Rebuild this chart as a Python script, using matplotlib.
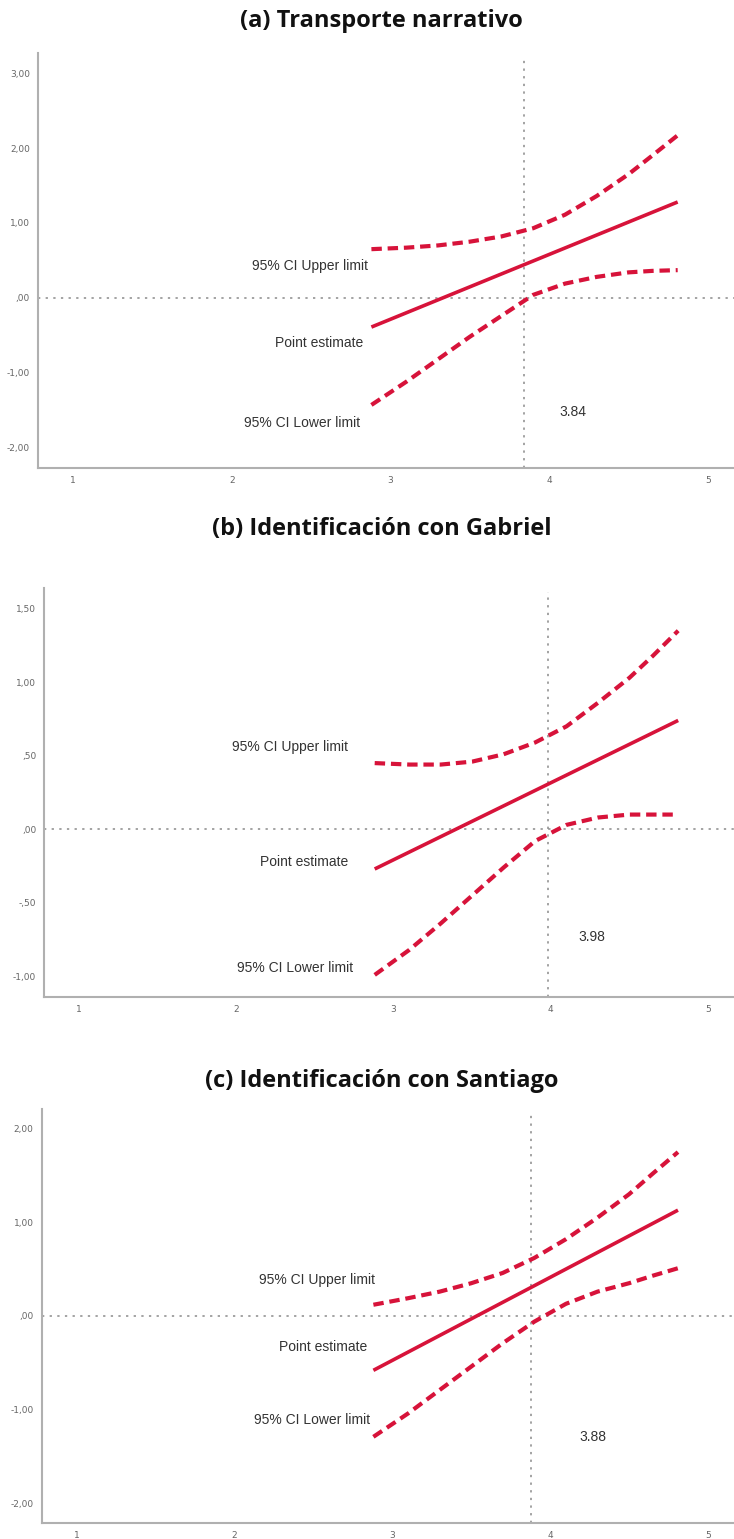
import matplotlib.pyplot as plt

RED = "#d7133a"
GRAY = "#8a8a8a"

# === Datos ===
titles = ["(a) Transporte narrativo", "(b) Identificación con Gabriel",
          "(c) Identificación con Santiago"]
jn_points = [3.84, 3.98, 3.88]
yticks = [[-2, -1, 0, 1, 2, 3],
          [-1, -0.5, 0, 0.5, 1, 1.5],
          [-2, -1, 0, 1, 2]]
ytick_labels = [["-2,00", "-1,00", ",00", "1,00", "2,00", "3,00"],
                ["-1,00", "-,50", ",00", ",50", "1,00", "1,50"],
                ["-2,00", "-1,00", ",00", "1,00", "2,00"]]
ylims = [(-2.27, 3.27), (-1.14, 1.64), (-2.21, 2.21)]

x_est = [2.88, 4.81]
est_a = [-0.39, 1.28]
est_b = [-0.27, 0.74]
est_c = [-0.58, 1.13]

x_ci = [2.88, 3.1, 3.3, 3.5, 3.7, 3.9, 4.1, 4.3, 4.5, 4.65, 4.81]
upper_a = [0.65, 0.67, 0.70, 0.75, 0.82, 0.93, 1.11, 1.36, 1.65, 1.90, 2.17]
lower_a = [-1.43, -1.12, -0.82, -0.52, -0.24, 0.04, 0.19, 0.28, 0.34, 0.36, 0.37]
upper_b = [0.45, 0.44, 0.44, 0.46, 0.51, 0.59, 0.70, 0.86, 1.03, 1.18, 1.35]
lower_b = [-0.99, -0.82, -0.64, -0.45, -0.26, -0.08, 0.03, 0.08, 0.10, 0.10, 0.10]
upper_c = [0.12, 0.19, 0.26, 0.35, 0.46, 0.62, 0.82, 1.05, 1.30, 1.52, 1.75]
lower_c = [-1.29, -1.04, -0.79, -0.54, -0.29, -0.06, 0.13, 0.26, 0.35, 0.43, 0.51]

estimates = [est_a, est_b, est_c]
uppers = [upper_a, upper_b, upper_c]
lowers = [lower_a, lower_b, lower_c]

# posiciones de las etiquetas (x derecha, y)
lab_upper = [(2.86, 0.42), (2.71, 0.56), (2.89, 0.38)]
lab_point = [(2.83, -0.60), (2.71, -0.22), (2.84, -0.33)]
lab_lower = [(2.81, -1.67), (2.74, -0.94), (2.86, -1.11)]
lab_jn = [(4.15, -1.52), (4.26, -0.73), (4.27, -1.29)]

axes_pos = [[0.052, 0.696, 0.948, 0.2696],
            [0.0606, 0.3522, 0.9394, 0.2657],
            [0.0572, 0.0104, 0.9428, 0.2690]]
title_y = [0.9865, 0.6565, 0.2975]

fig = plt.figure(figsize=(7.34, 15.39), dpi=100)

for i in range(3):
    ax = fig.add_axes(axes_pos[i])
    ax.plot(x_est, estimates[i], color=RED, lw=2.6, solid_capstyle="butt")
    ax.plot(x_ci, uppers[i], color=RED, lw=3, dashes=(2.5, 1.4))
    ax.plot(x_ci, lowers[i], color=RED, lw=3, dashes=(2.5, 1.4))

    ax.axhline(0, color=GRAY, lw=1.1, dashes=(1.5, 3.5), zorder=0)
    ax.axvline(jn_points[i], ymax=0.99, color=GRAY, lw=1.1, dashes=(1.5, 3.5), zorder=0)

    ax.set_xlim(0.78, 5.165)
    ax.set_ylim(*ylims[i])
    ax.set_xticks([1, 2, 3, 4, 5])
    ax.set_yticks(yticks[i])
    ax.set_yticklabels(ytick_labels[i])
    ax.tick_params(length=0, labelsize=6.5, colors="#666666", pad=6)

    for s in ["top", "right"]:
        ax.spines[s].set_visible(False)
    for s in ["left", "bottom"]:
        ax.spines[s].set_color("#b0b0b0")
        ax.spines[s].set_linewidth(1.5)

    txt = dict(fontsize=10, color="#333333", family="Liberation Sans")
    ax.text(*lab_upper[i], "95% CI Upper limit", ha="right", va="center", **txt)
    ax.text(*lab_point[i], "Point estimate", ha="right", va="center", **txt)
    ax.text(*lab_lower[i], "95% CI Lower limit", ha="right", va="center", **txt)
    ax.text(*lab_jn[i], f"{jn_points[i]:.2f}", ha="center", va="center", **txt)

    fig.text(0.52, title_y[i], titles[i], ha="center", va="center",
             fontsize=17, fontweight="bold", family="Open Sans", color="#111111")

plt.savefig("out.png", dpi=100)
plt.close()
